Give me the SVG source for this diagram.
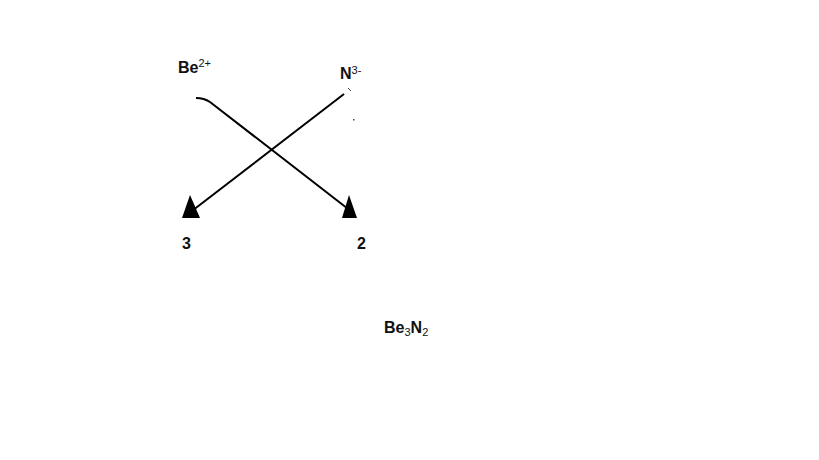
<svg xmlns="http://www.w3.org/2000/svg" width="819" height="460" viewBox="0 0 819 460">
<style>
text{font-family:"Liberation Sans",Arial,sans-serif;font-weight:bold;fill:#111}
.m{font-size:16px}
.s{font-size:11px;font-weight:normal}
.ln{fill:none;stroke:#000;stroke-width:2}
.ah{fill:#000}
</style>
<rect width="819" height="460" fill="#fff"/>
<g id="be"><text x="178" y="73" class="m">Be<tspan class="s" dy="-6">2+</tspan></text></g>
<g id="n"><text x="340" y="79" class="m">N<tspan class="s" dy="-5">3-</tspan></text></g>
<g id="three"><text x="182" y="249" class="m">3</text></g>
<g id="two"><text x="357" y="249" class="m">2</text></g>
<g id="product"><text x="384" y="333" class="m">Be<tspan class="s" dy="3">3</tspan><tspan dy="-3">N</tspan><tspan class="s" dy="3">2</tspan></text></g>
<g id="connectors">
<path class="ln" d="M196,98 Q204,98 210,102 L352,212"/>
<path class="ln" d="M344,94 L188,214"/>
<polygon class="ah" points="190,195 182,218 200,218"/>
<polygon class="ah" points="349,195 342,218 357,218"/>
<path d="M348,88 L351,91" stroke="#444" stroke-width="1"/>
<rect x="353" y="119" width="1.5" height="1.5" fill="#444"/>
</g>
</svg>
